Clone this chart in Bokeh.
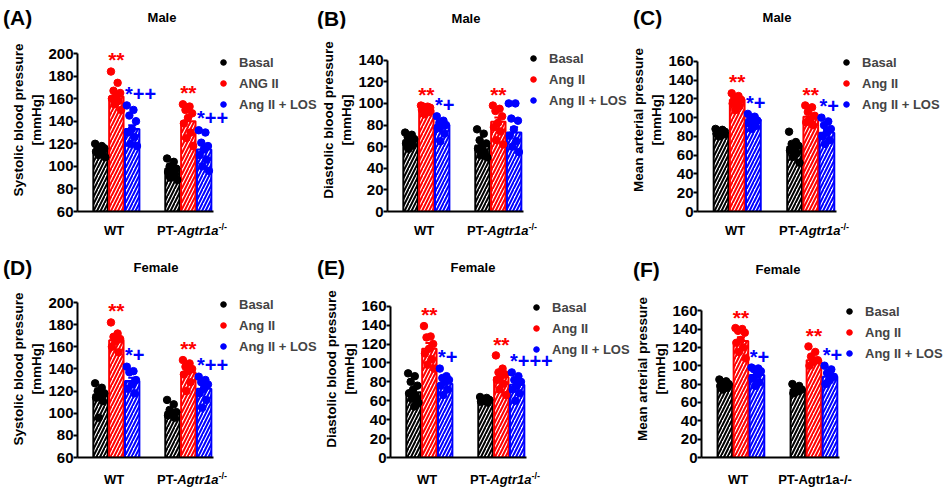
import numpy as np
from bokeh.plotting import figure
from bokeh.models import Range1d, FixedTicker, Label, Legend, LegendItem, ColumnDataSource, Div
from bokeh.layouts import column, row
from bokeh.embed import file_html
from bokeh.resources import INLINE

FONT = "Liberation Sans"
groups = ["WT", "PT-Agtr1a-/-"]
treatments = ["Basal", "Ang II", "Ang II + LOS"]
colors = ["#000000", "#ff0000", "#0000ff"]

# order of bars: WT (Basal, Ang II, LOS), PT (Basal, Ang II, LOS)
A_mean = [115, 162, 133, 98, 140, 115]
A_sem = [1.5, 3, 3.5, 2, 4, 4]
A_points = [[120, 118, 117, 116, 115, 113, 112, 110, 108],
            [184, 174, 167, 165, 162, 160, 158, 155, 150],
            [154, 150, 145, 140, 133, 130, 126, 120, 118],
            [107, 104, 100, 98, 96, 95, 93, 90, 88],
            [155, 153, 150, 147, 143, 138, 130, 125, 118],
            [132, 130, 121, 118, 115, 110, 106, 100, 96]]
A_sig = ["", "**", "*++", "", "**", "*++"]

B_mean = [66, 94, 80, 61, 83, 73]
B_sem = [1.5, 1, 2.5, 2.5, 4, 5]
B_points = [[73, 71, 69, 67, 65, 63, 61, 58],
            [98, 97, 97, 96, 95, 94, 92, 90],
            [88, 84, 82, 80, 79, 77, 72, 65],
            [76, 72, 66, 63, 61, 58, 55, 52, 50],
            [98, 95, 93, 88, 82, 78, 74, 66, 62],
            [100, 100, 86, 84, 76, 70, 65, 60, 55]]
B_sig = ["", "**", "*+", "", "**", ""]

C_mean = [84, 119, 98, 69, 101, 84]
C_sem = [1, 3, 2, 3, 3, 4]
C_points = [[88, 87, 86, 85, 84, 83, 82, 80],
            [126, 123, 121, 119, 117, 115, 112, 108],
            [104, 101, 99, 97, 96, 94, 91, 88],
            [85, 74, 72, 70, 68, 65, 62, 58, 52],
            [113, 111, 106, 102, 98, 95, 92],
            [100, 96, 92, 88, 84, 80, 76, 72]]
C_sig = ["", "**", "*+", "", "**", "*+"]

D_mean = [117, 166, 129, 101, 137, 122]
D_sem = [3, 3, 3, 2, 3, 3]
D_points = [[127, 123, 120, 118, 116, 114, 111, 96],
            [182, 172, 169, 167, 165, 160, 155],
            [142, 138, 137, 130, 126, 122, 118],
            [112, 108, 103, 101, 99, 98, 96],
            [148, 145, 142, 140, 138, 135, 128, 120],
            [133, 130, 128, 126, 122, 118, 112, 105]]
D_sig = ["", "**", "*+", "", "**", "*++"]

E_mean = [69, 115, 78, 61, 85, 77]
E_sem = [4, 6, 3, 1, 4, 4]
E_points = [[89, 86, 80, 76, 72, 68, 65, 62, 58, 54],
            [139, 128, 127, 120, 115, 110, 104, 98, 94],
            [94, 86, 84, 82, 80, 76, 72, 66],
            [64, 63, 62, 61, 60, 59, 58],
            [108, 94, 90, 88, 86, 82, 78, 72, 66],
            [90, 86, 82, 80, 76, 72, 68, 60]]
E_sig = ["", "**", "*+", "", "**", "*+++"]

F_mean = [80, 127, 90, 74, 106, 88]
F_sem = [1.5, 4, 3, 1.5, 3, 3]
F_points = [[85, 83, 82, 80, 79, 78, 76, 74],
            [141, 140, 138, 136, 128, 125, 120, 115, 108],
            [98, 97, 96, 94, 90, 86, 82, 78],
            [80, 78, 76, 74, 72, 70],
            [121, 115, 110, 106, 104, 100],
            [100, 96, 92, 88, 84, 80]]
F_sig = ["", "**", "*+", "", "**", "*+"]

legend_A = ["Basal", "ANG II", "Ang II + LOS"]
legend_other = ["Basal", "Ang II", "Ang II + LOS"]
letters = ["(A)", "(B)", "(C)", "(D)", "(E)", "(F)"]
sexes = ["Male", "Male", "Male", "Female", "Female", "Female"]

panels = [
    dict(ylabel="Systolic blood pressure\n[mmHg]", yr=(60, 200),
         mean=A_mean, sem=A_sem, pts=A_points, sig=A_sig, leg=legend_A, fancy=True),
    dict(ylabel="Diastolic blood pressure\n[mmHg]", yr=(0, 140),
         mean=B_mean, sem=B_sem, pts=B_points, sig=B_sig, leg=legend_other, fancy=True),
    dict(ylabel="Mean arterial pressure\n[mmHg]", yr=(0, 160),
         mean=C_mean, sem=C_sem, pts=C_points, sig=C_sig, leg=legend_other, fancy=True),
    dict(ylabel="Systolic blood pressure\n[mmHg]", yr=(60, 200),
         mean=D_mean, sem=D_sem, pts=D_points, sig=D_sig, leg=legend_other, fancy=True),
    dict(ylabel="Diastolic blood pressure\n[mmHg]", yr=(0, 160),
         mean=E_mean, sem=E_sem, pts=E_points, sig=E_sig, leg=legend_other, fancy=True),
    dict(ylabel="Mean arterial pressure\n[mmHg]", yr=(0, 160),
         mean=F_mean, sem=F_sem, pts=F_points, sig=F_sig, leg=legend_other, fancy=False),
]

# geometry (pixels): figure left on page, left border, space above axis top (ext),
# bottom border, axis frame size, title/letter positions, legend first-row offset
RB = 105
geom = [
    dict(x0=0, left=77, ext=25, bottom=11, fw=136, fh=158, tx=162, lx=3, ldy=9),
    dict(x0=318, left=69, ext=32, bottom=9, fw=136, fh=153, tx=466, lx=317, ldy=0),
    dict(x0=628, left=69, ext=33, bottom=10, fw=139, fh=151, tx=777, lx=633, ldy=2),
    dict(x0=0, left=77, ext=22, bottom=14, fw=136, fh=155, tx=156, lx=3, ldy=2),
    dict(x0=318, left=72, ext=26, bottom=12, fw=136, fh=153, tx=473, lx=317, ldy=3),
    dict(x0=631, left=70, ext=31, bottom=9, fw=138, fh=151, tx=778, lx=633, ldy=5),
]
XR = (-0.54, 1.35)
group_x = [0.0, 1.0]
offs = [-0.22, 0.0, 0.22]
BW = 0.2


def make_panel(d, g):
    ymin, ymax = d["yr"]
    span = ymax - ymin
    fw, fh, ext = g["fw"], g["fh"], g["ext"]
    x_end = XR[1] + RB * (XR[1] - XR[0]) / fw
    y_end = ymax + ext * span / fh
    p = figure(width=g["left"] + fw + RB, height=ext + fh + g["bottom"],
               x_range=Range1d(XR[0], x_end), y_range=Range1d(ymin, y_end),
               output_backend="svg", toolbar_location=None,
               min_border_left=g["left"], min_border_right=0,
               min_border_top=0, min_border_bottom=g["bottom"])
    p.outline_line_color = None
    p.xgrid.visible = False
    p.ygrid.visible = False
    p.background_fill_color = "white"
    p.border_fill_color = "white"

    xs, tops, cols = [], [], []
    for gi, gx in enumerate(group_x):
        for ti in range(3):
            k = gi * 3 + ti
            xs.append(gx + offs[ti])
            tops.append(d["mean"][k])
            cols.append(colors[ti])
    src = ColumnDataSource(dict(x=xs, top=tops, color=cols,
                                up=[t + s for t, s in zip(tops, d["sem"])],
                                cl=[x - 0.055 for x in xs], cr=[x + 0.055 for x in xs]))
    p.vbar(x="x", top="top", bottom=ymin, width=BW, source=src, fill_color="white",
           line_color="color", line_width=2, hatch_pattern="right_diagonal_line",
           hatch_color="color", hatch_scale=7, hatch_weight=2)

    renderers = []
    for ti in range(3):
        px, py = [], []
        for gi, gx in enumerate(group_x):
            vals = d["pts"][gi * 3 + ti]
            for i, v in enumerate(vals):
                off = (((i * 0.618034) % 1.0) - 0.5) * 0.15
                px.append(gx + offs[ti] + off)
                py.append(v)
        r = p.scatter(px, py, size=7.5, fill_color=colors[ti], line_color=colors[ti])
        renderers.append(r)

    p.segment(x0="x", y0="top", x1="x", y1="up", source=src, line_color="color", line_width=2)
    p.segment(x0="cl", y0="up", x1="cr", y1="up", source=src, line_color="color", line_width=2)

    for gi, gx in enumerate(group_x):
        for ti in range(3):
            k = gi * 3 + ti
            s = d["sig"][k]
            if not s:
                continue
            yv = max(d["pts"][k]) + 0.075 * span
            if ti == 1:
                p.add_layout(Label(x=gx + offs[ti], y=yv, text=s, text_align="center",
                                   text_baseline="middle", text_color=colors[ti],
                                   text_font=FONT, text_font_style="bold", text_font_size="21px"))
            else:
                p.add_layout(Label(x=gx + offs[ti] - BW / 2, y=yv, text=s, text_align="left",
                                   text_baseline="middle", text_color=colors[ti],
                                   text_font=FONT, text_font_style="bold", text_font_size="20px"))

    yax = p.yaxis[0]
    step = 20
    yax.bounds = (ymin, ymax)
    yax.ticker = FixedTicker(ticks=list(range(ymin, ymax + 1, step)), minor_ticks=[])
    yax.axis_line_width = 2
    yax.major_tick_line_width = 2
    yax.minor_tick_line_color = None
    yax.major_tick_out = 4
    yax.major_tick_in = 0
    yax.major_label_standoff = 0
    yax.major_label_text_font = FONT
    yax.major_label_text_font_style = "bold"
    yax.major_label_text_font_size = "15px"
    yax.major_label_text_color = "black"
    yax.axis_label = d["ylabel"]
    yax.axis_label_text_font = FONT
    yax.axis_label_text_font_style = "bold"
    yax.axis_label_text_font_size = "13.5px"
    yax.axis_label_standoff = 1
    yax.axis_label_text_color = "black"

    xax = p.xaxis[0]
    xax.bounds = XR
    xax.ticker = FixedTicker(ticks=[])
    xax.axis_line_width = 2
    xax.major_tick_out = 0
    xax.major_tick_in = 0
    xax.major_label_standoff = 0
    xax.major_tick_line_color = None
    xax.minor_tick_line_color = None

    items = [LegendItem(label=d["leg"][i], renderers=[renderers[i]]) for i in range(3)]
    leg_h = 3 * 20 + 2 * 1
    legend = Legend(items=items, location=(fw + 3, fh - leg_h - g["ldy"] + 10),
                    orientation="vertical", padding=0, spacing=1, margin=0,
                    glyph_width=14, glyph_height=20, label_height=20, label_standoff=9,
                    label_text_font=FONT, label_text_font_style="bold", label_text_font_size="13px",
                    border_line_alpha=0, background_fill_alpha=0)
    p.add_layout(legend)
    return p


def span_html(x, y, text, size, align="left"):
    tx = "-50%" if align == "center" else "0"
    return (f'<span style="position:absolute;left:{x}px;top:{y}px;font-size:{size}px;'
            f'line-height:1;white-space:nowrap;transform:translate({tx},-50%);">{text}</span>')


def text_div(spans, w, h):
    html = (f'<div style="position:relative;width:{w}px;height:{h}px;font-family:\'{FONT}\';'
            f'font-weight:bold;color:black;">' + "".join(spans) + '</div>')
    return Div(text=html, width=w, height=h, margin=0)


def title_div(idx, h, ty):
    spans = []
    for j, i in enumerate(idx):
        g = geom[i]
        spans.append(span_html(g["lx"], ty[j], letters[i], 21))
        spans.append(span_html(g["tx"], ty[j], sexes[i], 13, "center"))
    return text_div(spans, 944, h)


def xlab_div(idx, h, y):
    spans = []
    for i in idx:
        g = geom[i]
        d = panels[i]
        scale = g["fw"] / (XR[1] - XR[0])
        fl = g["x0"] + g["left"]
        for gi, gx in enumerate(group_x):
            cx = fl + (gx - XR[0]) * scale
            if gi == 0:
                spans.append(span_html(round(cx - 2), y, groups[0], 13, "center"))
            elif d["fancy"]:
                html = 'PT-<i>Agtr1a</i><sup style="font-size:9px;vertical-align:5px;">-/-</sup>'
                spans.append(span_html(round(cx + 4), y, html, 13, "center"))
            else:
                spans.append(span_html(round(cx + 2), y, groups[1], 13, "center"))
    return text_div(spans, 944, h)


figs = [make_panel(d, g) for d, g in zip(panels, geom)]
layout = column(
    title_div([0, 1, 2], 28, [17, 18, 17]),
    row(*figs[:3]),
    xlab_div([0, 1, 2], 18, 8),
    title_div([3, 4, 5], 40, [27, 27, 29]),
    row(*figs[3:]),
    xlab_div([3, 4, 5], 16, 8),
)
open("out.html", "w").write(file_html(layout, INLINE))
